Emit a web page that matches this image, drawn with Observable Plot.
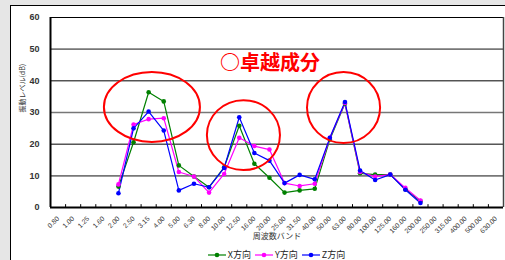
<!DOCTYPE html>
<html>
<head>
<meta charset="utf-8">
<script src="https://cdn.jsdelivr.net/npm/d3@7"></script>
<script src="https://cdn.jsdelivr.net/npm/@observablehq/plot@0.6"></script>
<style>
  html, body { margin: 0; padding: 0; background: #e6e6e6; width: 505px; height: 260px; overflow: hidden; }
  #panel { position: absolute; left: 10px; top: 5px; width: 520px; height: 280px; background: #fff; border: 1px solid #000; box-sizing: border-box; }
  #chart { position: absolute; left: 0; top: 0; }
  #legend { position: absolute; left: 0; top: 249px; width: 553px; display: flex; justify-content: center; gap: 4px;
            font: 9px/11px "Noto Sans CJK JP", "Liberation Sans", sans-serif; color: #222; }
  #legend span { display: inline-flex; align-items: center; gap: 2px; }
</style>
</head>
<body>
<div id="panel"></div>
<div id="chart"></div>
<div id="legend"></div>
<script>
const categories = ["0.80","1.00","1.25","1.60","2.00","2.50","3.15","4.00","5.00","6.30","8.00","10.00","12.50","16.00","20.00","25.00","31.50","40.00","50.00","63.00","80.00","100.00","125.00","160.00","200.00","250.00","315.00","400.00","500.00","630.00"];
const measured = ["2.00","2.50","3.15","4.00","5.00","6.30","8.00","10.00","12.50","16.00","20.00","25.00","31.50","40.00","50.00","63.00","80.00","100.00","125.00","160.00","200.00"];
const xDir = [6.6,20.6,36.4,33.5,13.3,9.8,6.4,12.7,25.8,13.8,9.4,4.7,5.4,5.9,21.5,32.8,10.8,10.4,10.4,5.8,2.0];
const yDir = [7.3,26.2,27.9,28.2,11.2,9.8,4.7,10.6,22.0,19.4,18.3,7.7,6.8,7.5,22.0,33.0,11.2,9.8,10.4,6.2,2.2];
const zDir = [4.5,25.0,30.3,24.3,5.4,7.5,6.4,12.5,28.5,17.2,14.8,7.7,10.3,8.9,22.0,33.3,11.7,8.7,10.4,5.6,1.4];
const seriesNames = ["X方向","Y方向","Z方向"];
const seriesColors = ["#008000","#ff00ff","#0000ff"];
const yTicks = [0,10,20,30,40,50,60];
const title = "○卓越成分";
const yLabel = "振動レベル(dB)";
const xLabel = "周波数バンド";
// annotation ellipses (centre in category position / dB, radii in the same units)
const highlights = [
  {cx: 6.75, cy: 31.6, rx: 3.18, ry: 11.05},
  {cx: 12.81, cy: 22.7, rx: 2.42, ry: 11.05},
  {cx: 19.44, cy: 31.4, rx: 2.42, ry: 11.2}
];

const rows = [];
[xDir, yDir, zDir].forEach((vals, s) => {
  vals.forEach((v, i) => rows.push({series: seriesNames[s], pos: categories.indexOf(measured[i]) + 0.5, value: v}));
});

const numFont = "'Liberation Sans', Arial, sans-serif";

const chart = Plot.plot({
  width: 505,
  height: 250,
  marginLeft: 50,
  marginRight: 2,
  marginTop: 17,
  marginBottom: 43,
  style: {background: "transparent", fontFamily: numFont},
  x: {type: "linear", domain: [0, categories.length]},
  y: {domain: [0, 60]},
  color: {domain: seriesNames, range: seriesColors},
  marks: [
    Plot.ruleY(yTicks.filter(t => t > 0), {stroke: d => (d / 10) % 2 === 1 ? "#777" : "#000", strokeWidth: d => (d / 10) % 2 === 1 ? 1.6 : 1}),
    Plot.ruleX([categories.length], {stroke: "#444", strokeWidth: 1.5}),
    Plot.axisY({ticks: yTicks, tickSize: 0, tickPadding: 11, fontSize: 9, fontWeight: "bold", fill: "#333", label: null}),
    Plot.ruleX(d3.range(1, categories.length), {y1: 0, y2: 0.9, stroke: "#000", strokeWidth: 1}),
    Plot.axisX({ticks: d3.range(categories.length).map(i => i + 0.5), tickFormat: d => categories[Math.floor(d)],
                tickSize: 0, tickPadding: 10, tickRotate: -45, fontSize: 6.8, fill: "#333", label: null}),
    Plot.text([xLabel], {frameAnchor: "bottom", dy: 31, fontSize: 8, fill: "#333", fontFamily: "'Noto Sans CJK JP', sans-serif"}),
    Plot.text([yLabel], {frameAnchor: "left", dx: -28, rotate: -90, fontSize: 7, fill: "#333", fontFamily: "'Noto Sans CJK JP', sans-serif"}),
    Plot.text([title], {frameAnchor: "top", dx: -7, dy: 38, fontSize: 20, fontWeight: "bold", fill: "#ff0000", fontFamily: "'Noto Sans CJK JP', sans-serif"}),
    Plot.ruleY([0], {stroke: "#000", strokeWidth: 2}),
    Plot.ruleX([0], {stroke: "#000", strokeWidth: 2}),
    Plot.line(rows, {x: "pos", y: "value", z: "series", stroke: "series", strokeWidth: 1.2}),
    Plot.dot(rows, {x: "pos", y: "value", fill: "series", r: 2.3}),
    Plot.dot(highlights, {x: "cx", y: "cy", r: 0, render(index, scales, values) {
      const g = d3.create("svg:g");
      for (const i of index) {
        const h = highlights[i];
        const px = values.x[i], py = values.y[i];
        g.append("ellipse")
          .attr("cx", px).attr("cy", py)
          .attr("rx", Math.abs(scales.x(h.cx + h.rx) - px))
          .attr("ry", Math.abs(scales.y(h.cy + h.ry) - py))
          .attr("fill", "none").attr("stroke", "#ff0000").attr("stroke-width", 2);
      }
      return g.node();
    }})
  ]
});
document.getElementById("chart").append(chart);

const legend = d3.select("#legend");
seriesNames.forEach((name, i) => {
  const item = legend.append("span");
  const sw = item.append("svg").attr("width", 18).attr("height", 8);
  sw.append("line").attr("x1", 0).attr("x2", 18).attr("y1", 4).attr("y2", 4).attr("stroke", seriesColors[i]).attr("stroke-width", 1.2);
  sw.append("circle").attr("cx", 9).attr("cy", 4).attr("r", 2.3).attr("fill", seriesColors[i]);
  item.append("span").text(name);
});
</script>
</body>
</html>
